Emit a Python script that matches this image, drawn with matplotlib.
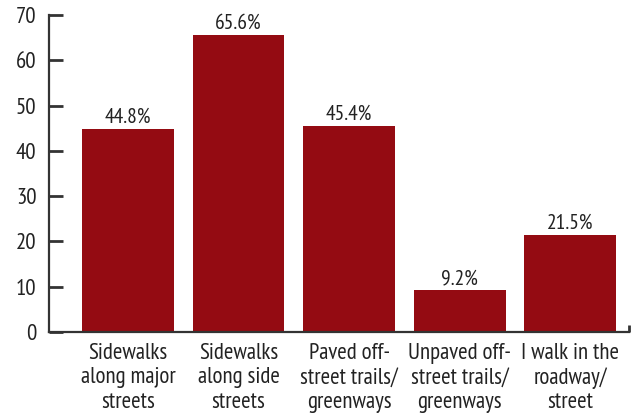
import matplotlib.pyplot as plt
import numpy as np

categories = ["Sidewalks\nalong major\nstreets", "Sidewalks\nalong side\nstreets",
              "Paved off-\nstreet trails/\ngreenways", "Unpaved off-\nstreet trails/\ngreenways",
              "I walk in the\nroadway/\nstreet"]
values = [44.8, 65.6, 45.4, 9.2, 21.5]
yticks = [0, 10, 20, 30, 40, 50, 60, 70]

plt.rcParams['font.family'] = ['PT Sans Narrow', 'DejaVu Sans']

fig = plt.figure(figsize=(6.31, 4.15), dpi=100, facecolor='white')
ax = fig.add_axes([0.0777, 0.2, 0.919, 0.764])

x = np.arange(len(values))
bars = ax.bar(x, values, width=0.83, color='#940b12')
for xi, v in zip(x, values):
    ax.text(xi, v + 0.5, f"{v}%", ha='center', va='bottom', fontsize=15.5, color='#222222')

ax.set_xlim(-0.714, 4.53)
ax.set_ylim(0, 70)
ax.set_yticks(yticks)
ax.set_xticks(x)
ax.set_xticklabels(categories, fontsize=16.5, color='#222222', linespacing=1.2)
ax.tick_params(axis='x', length=0, pad=8)
ax.tick_params(axis='y', direction='in', length=10, width=2, color='#333333',
               labelsize=16.5, labelcolor='#222222', pad=9)
ax.set_xticks([4.53], minor=True)
ax.tick_params(axis='x', which='minor', direction='in', length=5, width=2, color='#333333')

for s in ['top', 'right']:
    ax.spines[s].set_visible(False)
for s in ['left', 'bottom']:
    ax.spines[s].set_linewidth(1.6)
    ax.spines[s].set_color('#333333')

fig.savefig('out.png', dpi=100)
